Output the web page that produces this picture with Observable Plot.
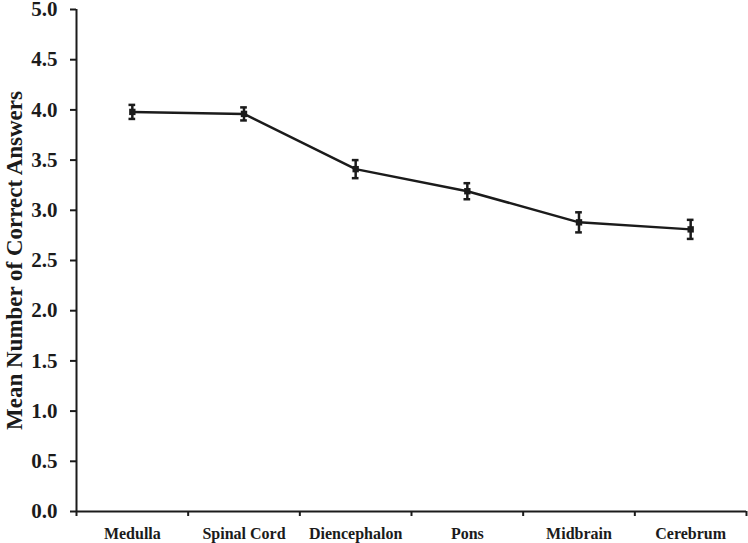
<!DOCTYPE html>
<html>
<head>
<meta charset="utf-8">
<script src="https://cdn.jsdelivr.net/npm/d3@7"></script>
<script src="https://cdn.jsdelivr.net/npm/@observablehq/plot@0.6"></script>
<style>
  html, body { margin: 0; padding: 0; background: #fff; }
  #chart svg { display: block; }
</style>
</head>
<body>
<div id="chart"></div>
<script>
const categories = ["Medulla", "Spinal Cord", "Diencephalon", "Pons", "Midbrain", "Cerebrum"];
const means = [3.98, 3.96, 3.41, 3.19, 2.88, 2.81];
const errors = [0.07, 0.065, 0.09, 0.08, 0.1, 0.095];
const yTicks = [0, 0.5, 1, 1.5, 2, 2.5, 3, 3.5, 4, 4.5, 5];
const yTitle = "Mean Number of Correct Answers";

const data = categories.map((c, i) => ({cat: c, pos: i + 0.5, mean: means[i], err: errors[i]}));
const boundaries = d3.range(0, categories.length + 1);
const capHalf = 0.03;
const ink = "#1b1b1b";
const serif = "'Liberation Serif', 'Times New Roman', Times, serif";

const chart = Plot.plot({
  width: 748,
  height: 543,
  marginLeft: 76,
  marginRight: 2,
  marginTop: 9,
  marginBottom: 32,
  style: {fontFamily: serif, fontWeight: "bold", color: ink, background: "#fff"},
  x: {type: "linear", domain: [0, categories.length], axis: null},
  y: {domain: [0, 5], axis: null},
  marks: [
    Plot.axisY({ticks: yTicks, tickFormat: d3.format(".1f"), tickSize: 6, tickPadding: 13, fontSize: 21, strokeWidth: 2, stroke: ink, fill: ink, label: null}),
    Plot.axisX({ticks: boundaries, tickFormat: () => "", tickSize: 5, strokeWidth: 2, stroke: ink, label: null}),
    Plot.ruleX([0], {stroke: ink, strokeWidth: 2}),
    Plot.ruleY([0], {stroke: ink, strokeWidth: 2}),
    Plot.text(data, {x: "pos", y: 0, text: "cat", dy: 22, fontSize: 16, fill: ink}),
    Plot.text([yTitle], {frameAnchor: "left", textAnchor: "middle", dx: -62, rotate: -90, fontSize: 23, fill: ink}),
    Plot.line(data, {x: "pos", y: "mean", stroke: ink, strokeWidth: 2.5}),
    Plot.ruleX(data, {x: "pos", y1: d => d.mean - d.err, y2: d => d.mean + d.err, stroke: ink, strokeWidth: 2.5}),
    Plot.ruleY(data, {y: d => d.mean + d.err, x1: d => d.pos - capHalf, x2: d => d.pos + capHalf, stroke: ink, strokeWidth: 2.5}),
    Plot.ruleY(data, {y: d => d.mean - d.err, x1: d => d.pos - capHalf, x2: d => d.pos + capHalf, stroke: ink, strokeWidth: 2.5}),
    Plot.dot(data, {x: "pos", y: "mean", symbol: "square", r: 3.6, fill: ink, stroke: "none"})
  ]
});
document.getElementById("chart").appendChild(chart);
</script>
</body>
</html>
